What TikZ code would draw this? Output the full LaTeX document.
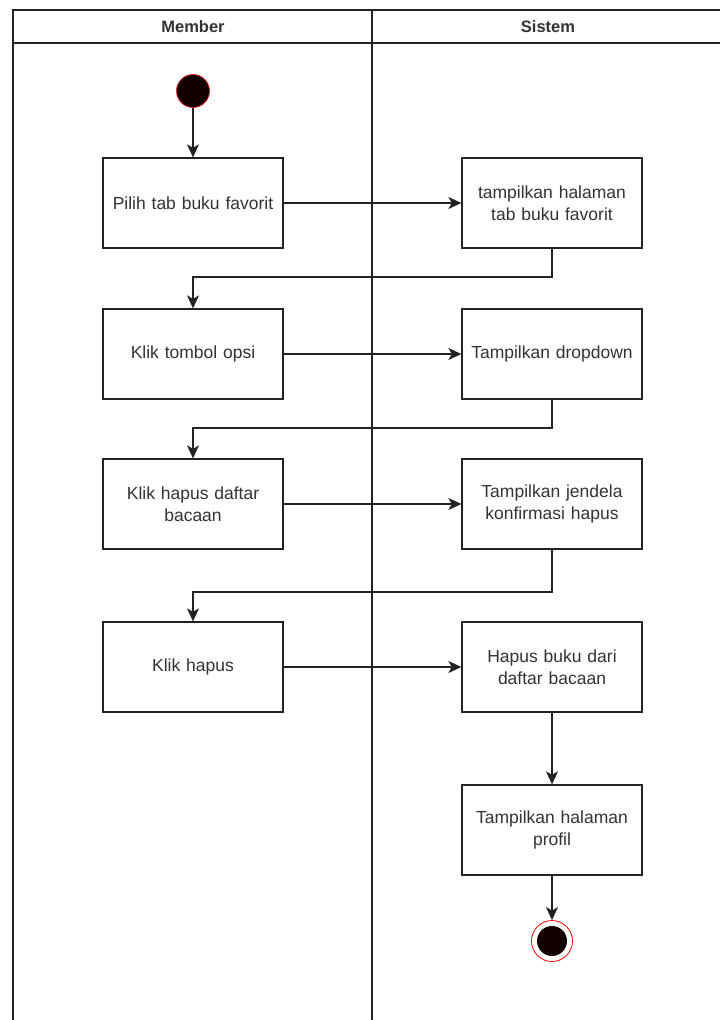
\documentclass[tikz,border=0pt]{standalone}
\usepackage{fontspec}
\setmainfont{Liberation Sans}
\usetikzlibrary{arrows.meta}
\definecolor{txt}{HTML}{333333}
\definecolor{ln}{HTML}{222222}
\definecolor{dot}{HTML}{120000}
\tikzset{
  actbox/.style={draw=ln, line width=1.3pt, minimum width=180pt, minimum height=90pt,
    text width=176pt, align=center, inner sep=0pt, text=txt,
    font=\fontsize{17.5}{21.5}\selectfont},
  flow/.style={draw=ln, line width=1.3pt, -{Stealth[length=13pt,width=12pt,inset=3.5pt]}},
  lane/.style={draw=ln, line width=1.3pt},
  hdr/.style={font=\bfseries\fontsize{16.5}{20}\selectfont, text=txt}
}
\begin{document}
\begin{tikzpicture}[x=1pt,y=-1pt]
\useasboundingbox (0,0) rectangle (720,1020);
\fill[white] (0,0) rectangle (720,1020);
% swimlanes
\draw[lane] (13,1020) -- (13,10) -- (721,10);
\draw[lane] (13,43) -- (721,43);
\draw[lane] (372,10) -- (372,1020);
\node[hdr] (hm) at (193,27) {Member};
\node[hdr] (hs) at (548,27) {Sistem};
% start
\node[circle, fill=dot, draw=red, line width=0.6pt, minimum size=33pt, inner sep=0pt] (start) at (193,91) {};
% boxes
\node[actbox] (b1) at (193,203) {Pilih tab buku favorit};
\node[actbox] (b2) at (552,203) {tampilkan halaman\\tab buku favorit};
\node[actbox] (b3) at (193,354) {Klik tombol opsi};
\node[actbox] (b4) at (552,354) {Tampilkan dropdown};
\node[actbox] (b5) at (193,504) {Klik hapus daftar\\bacaan};
\node[actbox] (b6) at (552,504) {Tampilkan jendela\\konfirmasi hapus};
\node[actbox] (b7) at (193,667) {Klik hapus};
\node[actbox] (b8) at (552,667) {Hapus buku dari\\daftar bacaan};
\node[actbox] (b9) at (552,830) {Tampilkan halaman\\profil};
% end
\node[circle, draw=red, line width=0.8pt, fill=white, minimum size=41pt, inner sep=0pt] (end) at (552,941) {};
\fill[dot] (end.center) circle (15pt);
% connectors
\draw[flow] (start) -- (b1);
\draw[flow] (b1) -- (b2);
\draw[flow] (b2.south) -- (552,277) -| (b3.north);
\draw[flow] (b3) -- (b4);
\draw[flow] (b4.south) -- (552,428) -| (b5.north);
\draw[flow] (b5) -- (b6);
\draw[flow] (b6.south) -- (552,592) -| (b7.north);
\draw[flow] (b7) -- (b8);
\draw[flow] (b8) -- (b9);
\draw[flow] (b9) -- (end);
\end{tikzpicture}
\end{document}
